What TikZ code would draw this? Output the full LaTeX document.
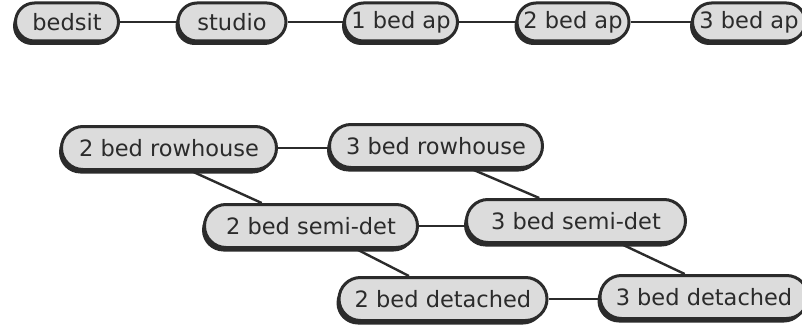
\documentclass[tikz,border=0pt]{standalone}
\usepackage{fontspec}
\setmainfont{DejaVu Sans}
\usepackage{tikz}
\usetikzlibrary{shapes.misc,shadows,positioning}
\definecolor{rim}{HTML}{2B2B2B}
\definecolor{pill}{HTML}{DCDCDC}
\tikzset
{
    housenode/.style = {rounded rectangle, draw=rim, line width=3pt, fill=pill, text=rim,
                        minimum width=#1, minimum height=43pt, inner xsep=2pt, inner ysep=0pt,
                        font=\fontsize{22.5}{26}\selectfont,
                        drop shadow={shadow xshift=-2.5pt, shadow yshift=-4pt, fill=rim, opacity=1}},
    aptnode/.style   = {housenode=#1, minimum height=38pt},
    link/.style      = {draw=rim, line width=2.4pt}
}
\begin{document}
\begin{tikzpicture}[x=1pt, y=-1pt]
    \useasboundingbox (0,0) rectangle (802,326);
    % apartments
    \node [aptnode=107pt] (bedsit) at (67,22) {bedsit};
    \node [aptnode=112pt] (studio) at (232,22) {studio};
    \node [aptnode=117pt] (ap1) at (401,22) {1 bed ap};
    \node [aptnode=116pt] (ap2) at (573,22) {2 bed ap};
    \node [aptnode=117pt] (ap3) at (749,22) {3 bed ap};
    % houses
    \node [housenode=219pt] (row2) at (169,148) {2 bed rowhouse};
    \node [housenode=217pt] (row3) at (436,146) {3 bed rowhouse};
    \node [housenode=217pt] (semi2) at (311,226) {2 bed semi-det};
    \node [housenode=223pt] (semi3) at (576,221) {3 bed semi-det};
    \node [housenode=212pt] (det2) at (443,299) {2 bed detached};
    \node [housenode=212pt] (det3) at (704,297) {3 bed detached};

    \draw [link] (bedsit.east) -- (studio.west);
    \draw [link] (studio.east) -- (ap1.west);
    \draw [link] (ap1.east) -- (ap2.west);
    \draw [link] (ap2.east) -- (ap3.west);

    \draw [link] (row2.east) -- (row2.east -| row3.west);
    \draw [link] (semi2.east) -- (semi2.east -| semi3.west);
    \draw [link] (det2.east) -- (det2.east -| det3.west);
    \draw [link] (row2.-46) -- (semi2.155);
    \draw [link] (row3.-33) -- (semi3.148);
    \draw [link] (semi2.-27) -- (det2.146);
    \draw [link] (semi3.-27) -- (det3.130);
\end{tikzpicture}
\end{document}
